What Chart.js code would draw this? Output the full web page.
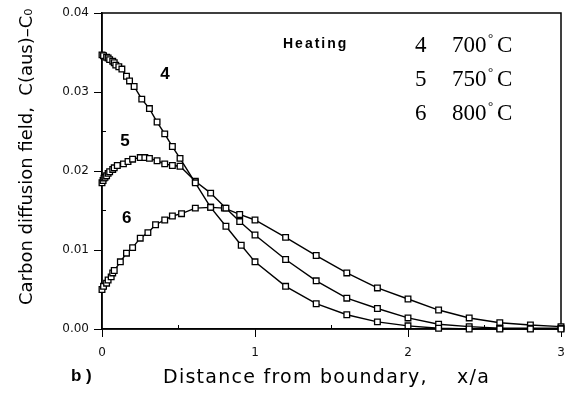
<!DOCTYPE html>
<html>
<head>
<meta charset="utf-8">
<script src="https://cdn.jsdelivr.net/npm/chart.js@4.4.1/dist/chart.umd.min.js"></script>
<style>
  html, body { margin: 0; padding: 0; background: #fff; }
  #wrap { width: 583px; height: 396px; }
</style>
</head>
<body>
<div id="wrap"><canvas id="myChart"></canvas></div>
<script>
// curve 4 : 700 C
const x700 = [0, 0.01, 0.03, 0.04, 0.05, 0.07, 0.08, 0.09, 0.11, 0.13, 0.16, 0.18, 0.21, 0.26, 0.31, 0.36, 0.41, 0.46, 0.51, 0.61, 0.71, 0.81, 0.91, 1.0, 1.2, 1.4, 1.6, 1.8, 2.0, 2.2, 2.4, 2.6, 2.8, 3.0]
const y700 = [0.0347, 0.0346, 0.0344, 0.0343, 0.0341, 0.0339, 0.0337, 0.0334, 0.0332, 0.0329, 0.0320, 0.0314, 0.0307, 0.0291, 0.0279, 0.0262, 0.0247, 0.0231, 0.0216, 0.0185, 0.0154, 0.0130, 0.0106, 0.0085, 0.0054, 0.0032, 0.0018, 0.0009, 0.0004, 0.0001, 0, 0, 0, 0]
// curve 5 : 750 C
const x750 = [0, 0.007, 0.013, 0.02, 0.03, 0.04, 0.05, 0.07, 0.08, 0.10, 0.14, 0.17, 0.20, 0.25, 0.28, 0.31, 0.36, 0.41, 0.46, 0.51, 0.61, 0.71, 0.81, 0.90, 1.0, 1.2, 1.4, 1.6, 1.8, 2.0, 2.2, 2.4, 2.6, 2.8, 3.0]
const y750 = [0.0185, 0.0188, 0.0191, 0.0192, 0.0194, 0.0197, 0.0199, 0.0202, 0.0204, 0.0207, 0.0209, 0.0212, 0.0215, 0.0217, 0.0217, 0.0216, 0.0213, 0.0209, 0.0207, 0.0206, 0.0187, 0.0172, 0.0153, 0.0136, 0.0119, 0.0088, 0.0061, 0.0039, 0.0026, 0.0014, 0.0006, 0.0003, 0.0001, 0.0001, 0.0001]
// curve 6 : 800 C
const x800 = [0, 0.01, 0.03, 0.04, 0.06, 0.07, 0.08, 0.12, 0.16, 0.20, 0.25, 0.30, 0.35, 0.41, 0.46, 0.52, 0.61, 0.71, 0.80, 0.90, 1.0, 1.2, 1.4, 1.6, 1.8, 2.0, 2.2, 2.4, 2.6, 2.8, 3.0]
const y800 = [0.0050, 0.0054, 0.0058, 0.0062, 0.0066, 0.0071, 0.0074, 0.0085, 0.0096, 0.0103, 0.0115, 0.0122, 0.0132, 0.0138, 0.0143, 0.0146, 0.0153, 0.0154, 0.0153, 0.0145, 0.0138, 0.0116, 0.0093, 0.0071, 0.0052, 0.0038, 0.0024, 0.0014, 0.0008, 0.0005, 0.0003]

const xTickLabels = ['0', '1', '2', '3']
const yTickLabels = ['0.00', '0.01', '0.02', '0.03', '0.04']
const curveNames = ['4', '5', '6']
const temps = ['700', '750', '800']
const xTitle = 'Distance from boundary,    x/a'
const yTitle = 'Carbon diffusion field,  C(aus)\u2013C\u2080'

const fuente = '"DejaVu Sans", Verdana, sans-serif'

function pts(xs, ys){
  return xs.map((x, i) => ({x: x, y: ys[i]}))
}

function serie(label, xs, ys){
  return {
    label: label,
    data: pts(xs, ys),
    borderColor: '#000',
    borderWidth: 1.4,
    backgroundColor: '#fff',
    pointStyle: 'rect',
    pointRadius: 4,
    pointBorderWidth: 1.3,
    pointBackgroundColor: '#fff',
    pointBorderColor: '#000',
    tension: 0,
    clip: false
  }
}

function esMayor(v, paso){
  const k = Math.round(v / paso)
  return Math.abs(v / paso - k) < 1e-6
}

// text stretched to a given width (the scanned font is wide)
function textoAncho(c, txt, cx, cy, ancho){
  c.letterSpacing = '0px'
  const w = c.measureText(txt).width
  const ls = Math.max(0, (ancho - w) / (txt.length - 1))
  c.letterSpacing = ls.toFixed(2) + 'px'
  c.textAlign = 'left'
  c.fillText(txt, cx - ancho / 2, cy)
  c.letterSpacing = '0px'
}

const caja = {
  id: 'caja',
  beforeDatasetsDraw(chart){
    const a = chart.chartArea
    const c = chart.ctx
    const sx = chart.scales.x
    const sy = chart.scales.y
    c.save()
    c.strokeStyle = '#000'
    c.lineWidth = 1.5
    c.strokeRect(a.left, a.top, a.right - a.left, a.bottom - a.top)
    // small inner ticks between the labelled ones
    c.lineWidth = 1
    c.beginPath()
    sx.ticks.forEach(t => {
      if (!esMayor(t.value, 1)) {
        const px = sx.getPixelForValue(t.value)
        c.moveTo(px, a.bottom)
        c.lineTo(px, a.bottom - 4)
      }
    })
    sy.ticks.forEach(t => {
      if (!esMayor(t.value, 0.01)) {
        const py = sy.getPixelForValue(t.value)
        c.moveTo(a.left, py)
        c.lineTo(a.left + 4, py)
      }
    })
    c.stroke()
    c.restore()
  },
  afterDraw(chart){
    const c = chart.ctx
    const sx = chart.scales.x
    const sy = chart.scales.y
    c.save()
    c.fillStyle = '#000'
    c.textBaseline = 'alphabetic'
    // curve numbers
    c.font = 'bold 17px "Liberation Sans", Arial, sans-serif'
    const pos = [[0.38, 0.0316], [0.12, 0.0232], [0.13, 0.0134]]
    curveNames.forEach((n, i) => {
      c.fillText(n, sx.getPixelForValue(pos[i][0]), sy.getPixelForValue(pos[i][1]))
    })
    // legend text
    c.font = 'bold 14px "Liberation Sans", Arial, sans-serif'
    c.letterSpacing = '2px'
    c.fillText('Heating', 283, 48)
    c.letterSpacing = '0px'
    temps.forEach((t, i) => {
      const yb = 52 + i * 34
      c.font = '23px "Liberation Serif", "Times New Roman", serif'
      c.fillText(curveNames[i], 415, yb)
      c.fillText(t, 452, yb)
      c.font = '13px "Liberation Serif", serif'
      c.fillText('\u00b0', 488, yb - 10)
      c.font = '23px "Liberation Serif", "Times New Roman", serif'
      c.fillText('C', 497, yb)
    })
    // axis titles
    c.textBaseline = 'middle'
    c.font = '19px ' + fuente
    textoAncho(c, xTitle, 326, 378, 326)
    c.save()
    c.translate(27, 160)
    c.rotate(-Math.PI / 2)
    c.font = '18px ' + fuente
    textoAncho(c, yTitle, 0, 0, 290)
    c.restore()
    // panel mark
    c.textBaseline = 'alphabetic'
    c.font = 'bold 17px "Liberation Sans Narrow", "Liberation Sans", sans-serif'
    c.fillText('b )', 71, 381)
    c.restore()
  }
}

const ctx = document.getElementById('myChart')

new Chart(ctx, {
  type: 'line',
  data: {
    datasets: [
      serie('4  700\u00b0C', x700, y700),
      serie('5  750\u00b0C', x750, y750),
      serie('6  800\u00b0C', x800, y800)
    ]
  },
  options: {
    responsive: true,
    maintainAspectRatio: false,
    animation: false,
    layout: { padding: { left: 0, right: 22, top: 13, bottom: 0 } },
    plugins: {
      legend: { display: false },
      tooltip: { enabled: false }
    },
    scales: {
      x: {
        type: 'linear',
        min: 0,
        max: 3,
        ticks: {
          stepSize: 0.5,
          autoSkip: false,
          maxRotation: 0,
          padding: 9,
          color: '#111',
          font: { family: fuente, size: 12 },
          callback: v => esMayor(v, 1) ? xTickLabels[Math.round(v)] : ''
        },
        grid: {
          drawOnChartArea: false,
          tickLength: 8,
          color: '#000',
          tickColor: c => (c.tick && esMayor(c.tick.value, 1)) ? '#000' : 'rgba(0,0,0,0)'
        },
        border: { color: '#000', width: 1.5 },
        afterFit: s => { s.height = 67 }
      },
      y: {
        min: 0,
        max: 0.04,
        ticks: {
          stepSize: 0.005,
          autoSkip: false,
          padding: 5,
          color: '#111',
          font: { family: fuente, size: 12 },
          callback: v => esMayor(v, 0.01) ? yTickLabels[Math.round(v * 100)] : ''
        },
        grid: {
          drawOnChartArea: false,
          tickLength: 8,
          color: '#000',
          tickColor: c => (c.tick && esMayor(c.tick.value, 0.01)) ? '#000' : 'rgba(0,0,0,0)'
        },
        border: { color: '#000', width: 1.5 },
        afterFit: s => { s.width = 102 }
      }
    }
  },
  plugins: [caja]
})
</script>
</body>
</html>
